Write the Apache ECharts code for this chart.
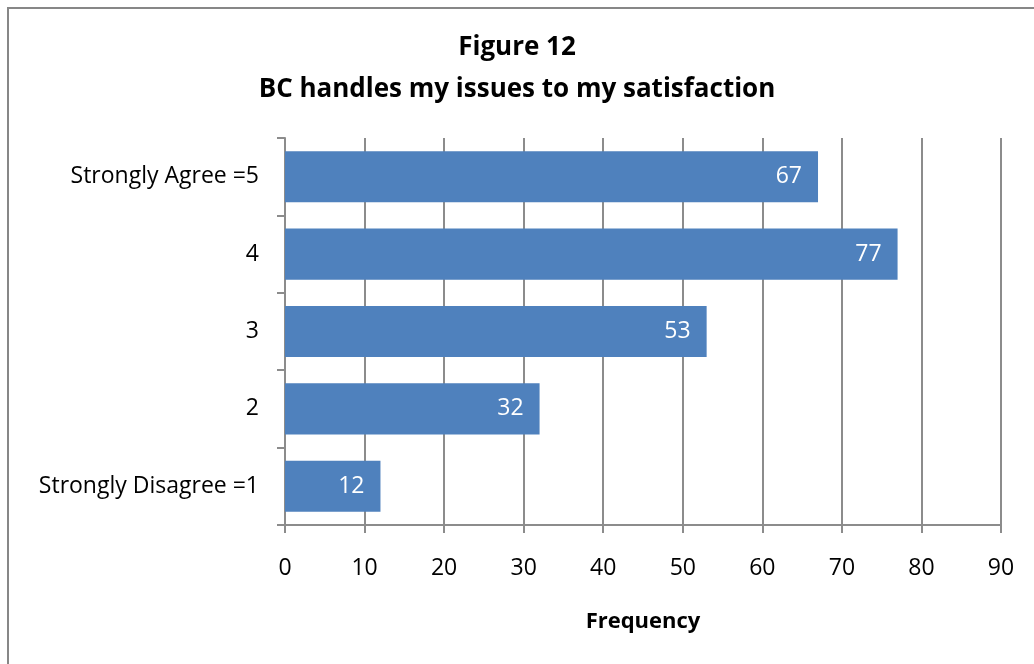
<!DOCTYPE html>
<html>
<head>
<meta charset="utf-8">
<style>
  html, body { margin: 0; padding: 0; background: #ffffff; }
  #chart { width: 1034px; height: 664px; }
</style>
<script src="https://cdn.jsdelivr.net/npm/echarts@6/dist/echarts.min.js"></script>
</head>
<body>
<div id="chart"></div>
<script>
// Survey responses: "BC handles my issues to my satisfaction"
const categories = ['Strongly Disagree =1', '2', '3', '4', 'Strongly Agree =5'];
const frequencies = [12, 32, 53, 77, 67];
const xTicks = { min: 0, max: 90, interval: 10 };
const titleLines = ['Figure 12', 'BC handles my issues to my satisfaction'];
const xAxisName = 'Frequency';

const FONT = '"Open Sans", "Noto Sans", sans-serif';
const AXIS_GREY = '#8c8c8c';

const chart = echarts.init(document.getElementById('chart'), null, { renderer: 'canvas' });

chart.setOption({
  animation: false,
  backgroundColor: '#ffffff',
  graphic: [
    {
      type: 'rect',
      shape: { x: 8, y: 8, width: 1040, height: 680 },
      style: { fill: 'none', stroke: '#878787', lineWidth: 2 },
      silent: true
    }
  ],
  title: {
    text: titleLines.join('\n'),
    left: 'center',
    top: 22,
    textStyle: {
      fontFamily: FONT,
      fontSize: 26,
      fontWeight: 'bold',
      color: '#000000',
      lineHeight: 42
    }
  },
  grid: { left: 285, right: 33, top: 138, bottom: 139, containLabel: false },
  xAxis: {
    type: 'value',
    min: xTicks.min,
    max: xTicks.max,
    interval: xTicks.interval,
    name: xAxisName,
    nameLocation: 'middle',
    nameGap: 86,
    nameTextStyle: { fontFamily: FONT, fontSize: 22, fontWeight: 'bold', color: '#000000' },
    axisLine: { show: true, lineStyle: { color: AXIS_GREY, width: 2 } },
    axisTick: { show: true, length: 8, inside: false, lineStyle: { color: AXIS_GREY, width: 2 } },
    axisLabel: { fontFamily: FONT, fontSize: 23, color: '#000000', margin: 32 },
    splitLine: { show: true, lineStyle: { color: AXIS_GREY, width: 2 } }
  },
  yAxis: {
    type: 'category',
    data: categories,
    axisLine: { show: true, lineStyle: { color: AXIS_GREY, width: 2 } },
    axisTick: { show: true, length: 8, alignWithLabel: false, lineStyle: { color: AXIS_GREY, width: 2 } },
    axisLabel: { fontFamily: FONT, fontSize: 23, color: '#000000', margin: 26 },
    splitLine: { show: false }
  },
  series: [
    {
      type: 'bar',
      data: frequencies,
      barCategoryGap: '34%',
      itemStyle: { color: '#4f81bd' },
      label: {
        show: true,
        position: 'insideRight',
        distance: 16,
        fontFamily: FONT,
        fontSize: 23,
        color: '#ffffff'
      }
    }
  ]
});
</script>
</body>
</html>
